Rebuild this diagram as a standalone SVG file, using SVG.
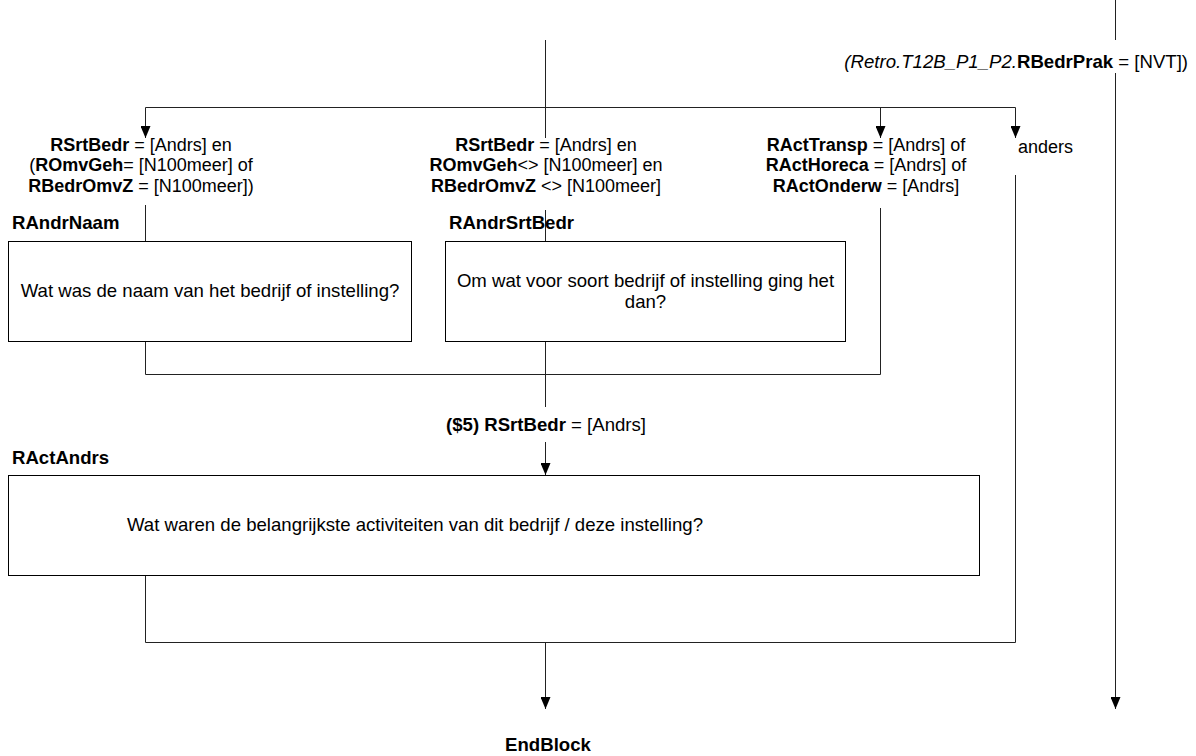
<svg xmlns="http://www.w3.org/2000/svg" width="1196" height="756" viewBox="0 0 1196 756">
<defs>
<style>
text{font-family:"Liberation Sans",Arial,Helvetica,sans-serif;font-size:18.6px;fill:#000}
.lb{font-size:18px}
.b{font-weight:bold}
.i{font-style:italic}
.c{text-anchor:middle}
.box{fill:#fff;stroke:#000;stroke-width:1}
.ln{fill:none;stroke:#222;stroke-width:1}
</style>
<marker id="arr" viewBox="0 0 12 10" refX="12" refY="5" markerWidth="12" markerHeight="10" markerUnits="userSpaceOnUse" orient="auto">
<path d="M0,0 L12,5 L0,10 Z" fill="#000"/>
</marker>
</defs>
<rect width="1196" height="756" fill="#fff"/>
<g id="connectors">
<path class="ln" d="M545.5,40 V138"/>
<path class="ln" d="M145.5,107.5 H1015.5"/>
<path class="ln" d="M145.5,107.5 V138" marker-end="url(#arr)"/>
<path class="ln" d="M880.5,107.5 V138" marker-end="url(#arr)"/>
<path class="ln" d="M1015.5,107.5 V138" marker-end="url(#arr)"/>
<path class="ln" d="M145.5,205 V241"/>
<path class="ln" d="M545.5,210 V241"/>
<path class="ln" d="M880.5,208 V374.5"/>
<path class="ln" d="M145.5,342 V374.5 H880.5"/>
<path class="ln" d="M545.5,342 V407"/>
<path class="ln" d="M545.5,442 V475" marker-end="url(#arr)"/>
<path class="ln" d="M145.5,576 V642.5 H1015.5 V175"/>
<path class="ln" d="M545.5,642.5 V709" marker-end="url(#arr)"/>
<path class="ln" d="M1115.5,0 V40"/>
<path class="ln" d="M1115.5,73 V709" marker-end="url(#arr)"/>
</g>
<g id="cond-left">
<text class="c lb" x="141" y="151"><tspan class="b">RSrtBedr</tspan> = [Andrs] en</text>
<text class="c lb" x="141" y="171.3">(<tspan class="b">ROmvGeh</tspan>= [N100meer] of</text>
<text class="c lb" x="141" y="191.6"><tspan class="b">RBedrOmvZ</tspan> = [N100meer])</text>
</g>
<g id="cond-mid">
<text class="c lb" x="546" y="151"><tspan class="b">RSrtBedr</tspan> = [Andrs] en</text>
<text class="c lb" x="546" y="171.3"><tspan class="b">ROmvGeh</tspan>&lt;&gt; [N100meer] en</text>
<text class="c lb" x="546" y="191.6"><tspan class="b">RBedrOmvZ</tspan> &lt;&gt; [N100meer]</text>
</g>
<g id="cond-right">
<text class="c lb" x="866" y="151"><tspan class="b">RActTransp</tspan> = [Andrs] of</text>
<text class="c lb" x="866" y="171.3"><tspan class="b">RActHoreca</tspan> = [Andrs] of</text>
<text class="c lb" x="866" y="191.6"><tspan class="b">RActOnderw</tspan> = [Andrs]</text>
</g>
<g id="cond-anders">
<text class="lb" x="1018" y="153">anders</text>
</g>
<g id="cond-nvt">
<text x="1188" y="68" style="text-anchor:end"><tspan class="i">(Retro.T12B_P1_P2.</tspan><tspan class="b">RBedrPrak</tspan> = [NVT])</text>
</g>
<g id="RAndrNaam">
<text class="b" x="12" y="229">RAndrNaam</text>
<rect class="box" x="8.5" y="241.5" width="403" height="100"/>
<text class="c" x="210" y="297">Wat was de naam van het bedrijf of instelling?</text>
</g>
<g id="RAndrSrtBedr">
<text class="b" x="449" y="229">RAndrSrtBedr</text>
<rect class="box" x="445.5" y="241.5" width="400" height="100"/>
<text class="c" x="645.5" y="287">Om wat voor soort bedrijf of instelling ging het</text>
<text class="c" x="645.5" y="308">dan?</text>
</g>
<g id="cond-5">
<text class="c" x="546" y="431"><tspan class="b">($5) RSrtBedr</tspan> = [Andrs]</text>
</g>
<g id="RActAndrs">
<text class="b" x="12" y="464">RActAndrs</text>
<rect class="box" x="8.5" y="475.5" width="971" height="100"/>
<text class="c" x="415" y="531">Wat waren de belangrijkste activiteiten van dit bedrijf / deze instelling?</text>
</g>
<g id="EndBlock">
<text class="b c" x="548" y="751">EndBlock</text>
</g>
</svg>
